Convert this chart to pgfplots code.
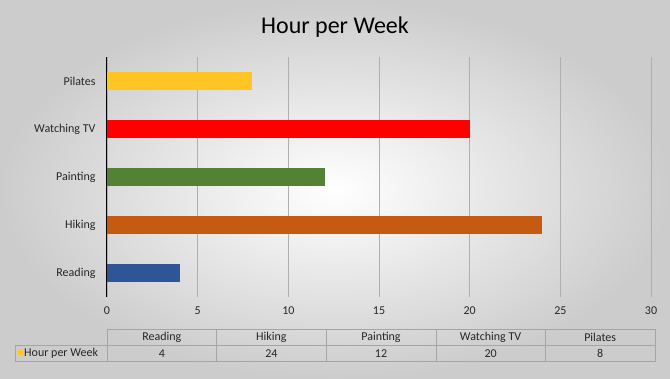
\documentclass[border=0pt]{standalone}
\usepackage{pgfplots}
\pgfplotsset{compat=1.18}
\usepackage{fontspec}
\setmainfont{Carlito}
\definecolor{cPil}{RGB}{255,197,37}
\definecolor{cTV}{RGB}{255,0,0}
\definecolor{cPai}{RGB}{84,130,53}
\definecolor{cHik}{RGB}{197,90,17}
\definecolor{cRea}{RGB}{47,85,151}
\definecolor{gridc}{RGB}{175,175,175}
\definecolor{tabc}{RGB}{165,165,165}
\begin{document}
\begin{tikzpicture}[x=1pt,y=-1pt]
\shade[inner color=white, outer color=black!20] (0,0) rectangle (670,379);
\node[font=\fontsize{24}{28}\selectfont] at (335,27) {Hour per Week};
\begin{axis}[
  at={(107pt,-297pt)}, anchor=south west,
  width=544pt, height=240pt, scale only axis,
  xbar, xmin=0, xmax=30, ymin=-0.5, ymax=4.5,
  ytick={0,1,2,3,4},
  yticklabels={Reading,Hiking,Painting,Watching TV,Pilates},
  xtick={0,5,10,15,20,25,30},
  xmajorgrids, grid style={gridc, line width=0.6pt},
  axis x line*=bottom, axis y line*=left,
  x axis line style={draw=none},
  y axis line style={black, line width=1pt},
  major tick length=0pt,
  tick label style={font=\fontsize{12}{14}\selectfont, text=black!85},
  /pgf/number format/assume math mode=true,
  xticklabel style={yshift=-6pt},
  yticklabel style={xshift=-8pt},
  bar width=18pt, bar shift=0pt,
  clip=false,
]
\addplot[fill=cRea, draw=none] coordinates {(4,0)};
\addplot[fill=cHik, draw=none] coordinates {(24,1)};
\addplot[fill=cPai, draw=none] coordinates {(12,2)};
\addplot[fill=cTV, draw=none] coordinates {(20,3)};
\addplot[fill=cPil, draw=none] coordinates {(8,4)};
\end{axis}
% data table
\begin{scope}[tabc, line width=0.6pt]
\draw (107,329) rectangle (655,361);
\draw (15,345) -- (655,345);
\draw (15,345) rectangle (107,361);
\foreach \xx in {216.6,326.2,435.8,545.4} \draw (\xx,329) -- (\xx,361);
\end{scope}
\fill[cPil] (17.5,350) rectangle (22.5,355.5);
\begin{scope}[font=\fontsize{12}{14}\selectfont, text=black!85]
\node[anchor=west, inner sep=0pt] at (24,353) {Hour per Week};
\foreach \xx/\lab/\val in {161.8/Reading/4, 271.4/Hiking/24, 381/Painting/12, 490.6/Watching TV/20, 600.2/Pilates/8}{
  \node at (\xx,337.5) {\lab};
  \node at (\xx,353.5) {\val};
}
\end{scope}
\end{tikzpicture}
\end{document}
